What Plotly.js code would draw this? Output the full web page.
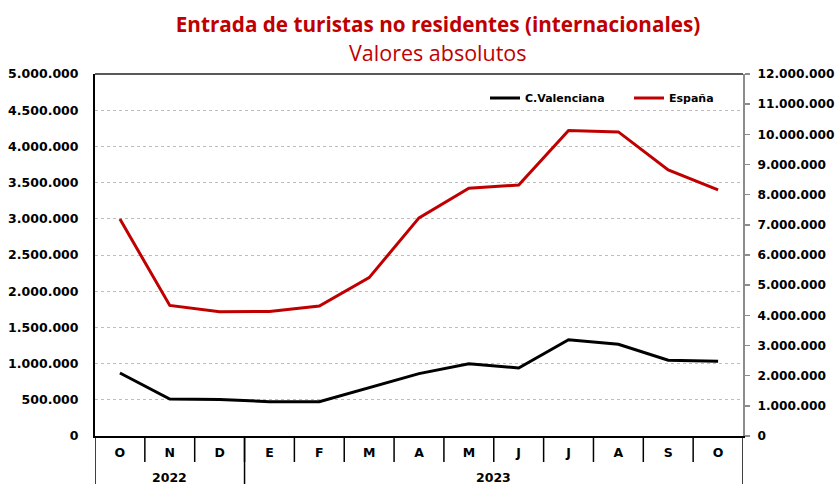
<!DOCTYPE html>
<html>
<head>
<meta charset="utf-8">
<script src="https://cdn.plot.ly/plotly-3.0.1.min.js"></script>
<style>html,body{margin:0;padding:0;background:#fff;}#chart{width:836px;height:484px;}</style>
</head>
<body>
<div id="chart"></div>
<script>
const months = ["O","N","D","E","F","M","A","M","J","J","A","S","O"];
const years = ["2022","2023"];
const yearSpans = [[0,2],[3,12]];
const valenciana = [870000, 511000, 503000, 474000, 474000, 667000, 862000, 999000, 939000, 1330000, 1267000, 1046000, 1032000];
const espana = [7190000, 4330000, 4120000, 4130000, 4310000, 5250000, 7230000, 8210000, 8320000, 10130000, 10080000, 8820000, 8160000];

const idx = months.map((m,i)=>i);
const tickFont = {family:"DejaVu Sans", size:12.5, color:"#000", weight:"bold"};
const tickFontR = {family:"DejaVu Sans", size:12.2, color:"#000", weight:"bold"};
const legFont = {family:"DejaVu Sans", size:11, color:"#000", weight:"bold"};

const traces = [
  {x: idx, y: valenciana, name: "C.Valenciana", type:"scatter", mode:"lines",
   line:{color:"#000000", width:3}, yaxis:"y", legend:"legend"},
  {x: idx, y: espana, name: "España", type:"scatter", mode:"lines",
   line:{color:"#C00000", width:3}, yaxis:"y2", legend:"legend2"}
];

const plotH = 484-74-48;
const plotW = 836-95-93;
const shapes = [];
for (let i=0;i<months.length-1;i++){
  shapes.push({type:"line", xref:"x", yref:"paper", x0:i+0.5, x1:i+0.5, y0:0, y1:-26/plotH,
    line:{color:"#000", width:1.5}});
}
const bounds = [-0.5];
yearSpans.forEach(s=>bounds.push(s[1]+0.5));
bounds.forEach(b=>{
  shapes.push({type:"line", xref:"x", yref:"paper", x0:b, x1:b, y0:0, y1:-48/plotH,
    line:{color:"#000", width:1.5}});
});
shapes.push({type:"line", xref:"paper", yref:"paper", x0:0, x1:1, y0:1, y1:1, line:{color:"#222", width:1.5}});

const annotations = years.map((y,k)=>({
  text:"<b>"+y+"</b>", xref:"x", yref:"paper", x:(yearSpans[k][0]+yearSpans[k][1])/2, y:-41/plotH,
  yanchor:"middle", showarrow:false, font:{family:"DejaVu Sans", size:12.5, color:"#000"}
}));
annotations.push({
  text:"Valores absolutos", xref:"paper", yref:"paper", x:(438-95)/plotW, y:(436-53)/plotH,
  xanchor:"center", yanchor:"middle", showarrow:false,
  font:{family:"Open Sans", size:21.5, color:"#C00000"}
});

const layout = {
  width:836, height:484,
  margin:{l:95, r:93, t:74, b:48, autoexpand:false},
  paper_bgcolor:"#fff", plot_bgcolor:"#fff",
  separators:",.",
  title:{
    text:"<b>Entrada de turistas no residentes (internacionales)</b>",
    font:{family:"Open Sans", size:20.7, color:"#C00000"},
    x:(438-95)/plotW, xref:"paper", xanchor:"center", y:1-25/484, yref:"container", yanchor:"middle"
  },
  showlegend:true,
  legend:{orientation:"h", x:(485-95)/plotW, y:(436-98)/plotH, xanchor:"left", yanchor:"middle",
    font:legFont, bgcolor:"rgba(0,0,0,0)", itemwidth:30},
  legend2:{orientation:"h", x:(629-95)/plotW, y:(436-98)/plotH, xanchor:"left", yanchor:"middle",
    font:legFont, bgcolor:"rgba(0,0,0,0)", itemwidth:30},
  xaxis:{range:[-0.5, 12.5], tickvals:idx, ticktext:months, ticks:"", showgrid:false,
    zeroline:false, showline:true, linecolor:"#000", linewidth:2, tickfont:tickFont,
    ticklabelstandoff:4, fixedrange:true},
  yaxis:{range:[0,5000000], dtick:500000, tickformat:",.0f", showgrid:true,
    gridcolor:"#bdbdbd", griddash:"dot", gridwidth:1, zeroline:false, showline:true,
    linecolor:"#000", linewidth:2, ticks:"", tickfont:tickFont, ticklabelstandoff:12},
  yaxis2:{range:[0,12000000], dtick:1000000, tickformat:",.0f", overlaying:"y", side:"right",
    showgrid:false, zeroline:false, showline:true, linecolor:"#8c8c8c", linewidth:2,
    ticks:"outside", ticklen:5, tickcolor:"#8c8c8c", tickwidth:1.5, tickfont:tickFontR, ticklabelstandoff:5},
  shapes:shapes,
  annotations:annotations
};

Plotly.newPlot("chart", traces, layout, {displayModeBar:false, staticPlot:true});
</script>
</body>
</html>
